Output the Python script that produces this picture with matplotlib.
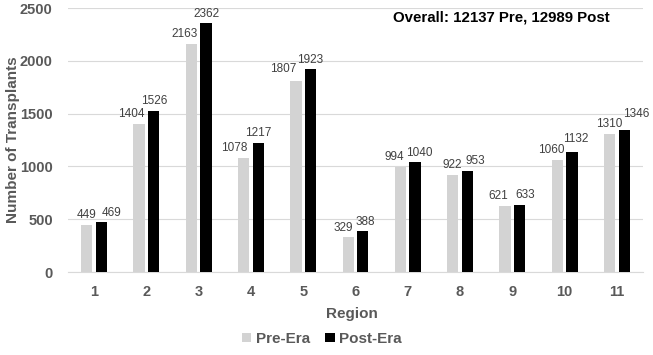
import matplotlib
matplotlib.use("Agg")
import matplotlib.pyplot as plt
import numpy as np

regions = ["1", "2", "3", "4", "5", "6", "7", "8", "9", "10", "11"]
pre_era = [449, 1404, 2163, 1078, 1807, 329, 994, 922, 621, 1060, 1310]
post_era = [469, 1526, 2362, 1217, 1923, 388, 1040, 953, 633, 1132, 1346]
yticks = [0, 500, 1000, 1500, 2000, 2500]

# label nudges (pixels) as placed in the original chart
pre_dx = [0, -8, -7, -9, -13, -5, -6, 0, -7, -6, 0]
pre_dy = [7, 7, 7, 7, 9, 6, 7, 7, 7, 7, 7]
post_dx = [10, 1, 0, 0, 0, 2, 4, 8, 6, 4, 12]
post_dy = [6, 7, 6, 7, 6, 6, 6, 7, 7, 10, 13]

plt.rcParams['font.family'] = ['Liberation Sans', 'DejaVu Sans']

fig = plt.figure(figsize=(6.53, 3.55), dpi=100)
ax = fig.add_axes([68/653, 1-272/355, (643-68)/653, (272-8)/355])

x = np.arange(1, len(regions)+1)
w = 0.215
off = 0.14
b1 = ax.bar(x - off, pre_era, width=w, color='#d3d3d3', label='Pre-Era', zorder=3)
b2 = ax.bar(x + off, post_era, width=w, color='#000000', label='Post-Era', zorder=3)

for xi, v, dx, dy in zip(x - off, pre_era, pre_dx, pre_dy):
    ax.annotate(str(v), (xi, v), xytext=(dx, dy), textcoords='offset pixels',
                ha='center', va='baseline', fontsize=8.5, color='#404040')
for xi, v, dx, dy in zip(x + off, post_era, post_dx, post_dy):
    ax.annotate(str(v), (xi, v), xytext=(dx, dy), textcoords='offset pixels',
                ha='center', va='baseline', fontsize=8.5, color='#404040')

ax.set_xlim(0.5, 11.5)
ax.set_ylim(0, 2500)
ax.set_yticks(yticks)
ax.set_xticks(x)
ax.set_xticklabels(regions)
for lab in ax.get_xticklabels() + ax.get_yticklabels():
    lab.set_fontweight('bold')
    lab.set_fontsize(10.5)
    lab.set_color('#595959')
ax.tick_params(axis='both', length=0)
ax.tick_params(axis='x', pad=9)
ax.tick_params(axis='y', pad=11)
ax.grid(axis='y', color='#d9d9d9', linewidth=0.8, zorder=0)
for s in ['top', 'right', 'left']:
    ax.spines[s].set_visible(False)
ax.spines['bottom'].set_color('#d9d9d9')

ax.set_xlabel('Region', fontsize=11, fontweight='bold', color='#595959')
ax.xaxis.set_label_coords((352-68)/575, -(314-272)/264)
ax.xaxis.label.set_va('center')
ax.set_ylabel('Number of Transplants', fontsize=11, fontweight='bold', color='#595959')
ax.yaxis.set_label_coords(-(68-13)/575, (272-140)/264)
ax.yaxis.label.set_va('center')

fig.text(610/653, 1-18/355, 'Overall: 12137 Pre, 12989 Post', ha='right', va='center',
         fontsize=10.8, fontweight='bold', color='black')

leg = fig.legend(handles=[b1, b2], loc='center', bbox_to_anchor=(322/653, 1-339/355), ncol=2,
                 frameon=False, fontsize=11, handlelength=0.6, handleheight=0.6,
                 columnspacing=1.0, handletextpad=0.3)
for t in leg.get_texts():
    t.set_fontweight('bold')
    t.set_color('#595959')

fig.savefig('out.png', dpi=100)
